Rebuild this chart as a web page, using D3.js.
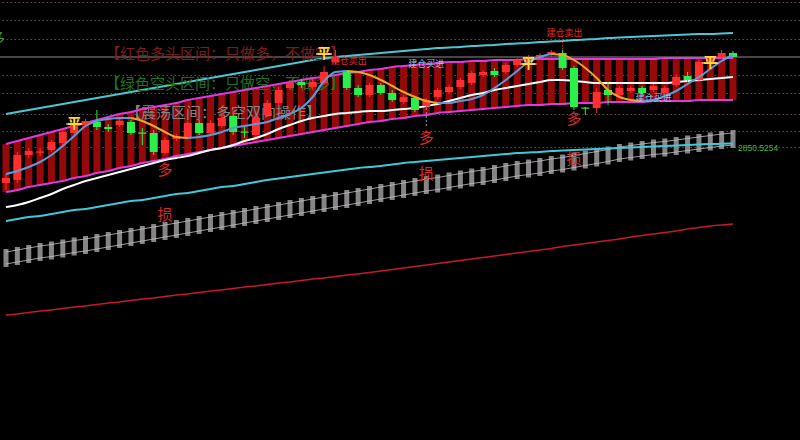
<!DOCTYPE html>
<html><head><meta charset="utf-8">
<script src="https://cdn.jsdelivr.net/npm/d3@7"></script>
<style>html,body{margin:0;padding:0;background:#000;overflow:hidden}</style>
</head><body>
<svg id="chart" width="800" height="440"></svg>
<script>
// ---------- data (prices) ----------
const opens = [2811,2814,2839,2841.5,2844,2851,2861,2869,2872,2867, 2869,2872,2861.5,2861,2841,2855,2857,2871,2861,2868, 2878,2862.5,2859,2879,2891,2906,2912,2907,2911,2932, 2922,2906,2899,2909,2901,2892,2896,2888,2897,2902, 2907,2911,2919,2923,2922,2929,2932,2936,2939,2941, 2926,2886.5,2886,2904,2899,2903,2906,2904,2901,2909, 2918,2914,2932,2937,2941];
const highs = [2820,2842,2846,2846,2854,2865,2876,2875,2884,2870, 2875,2874,2866,2864,2857,2860,2873,2874,2874,2879, 2881,2869,2878,2894,2907,2914,2915,2915,2928,2944, 2924,2909,2911,2911,2904,2899,2898,2896,2906,2909, 2916,2923,2924,2926,2931,2936,2939,2941,2944,2944, 2928,2887,2906,2912,2908,2908,2908,2910,2908,2920, 2922,2934,2938,2944,2943];
const lows = [2804,2811,2836,2838,2842,2848,2859,2867,2864,2862, 2867,2859,2849,2839,2839,2853,2855,2859,2859,2866, 2859,2856,2857,2877,2889,2904,2906,2905,2909,2930, 2904,2897,2897,2899,2892,2890,2882,2886,2895,2900, 2905,2909,2917,2917,2920,2927,2930,2934,2937,2924, 2884,2879,2881,2889,2897,2901,2899,2902,2899,2907, 2912,2912,2930,2935,2936];
const closes = [2816,2839,2843,2842.5,2852,2862,2871,2873,2867,2865, 2873,2861,2860.5,2842,2854,2858,2871,2861,2871,2876, 2862,2861.5,2876,2891,2904,2911,2909,2912,2922,2937, 2906,2899,2909,2901,2894,2897,2884,2894,2904,2907, 2914,2921,2922,2919,2929,2934,2937,2939,2942,2926, 2887,2885.5,2902,2899,2906,2906,2901,2908,2906,2917, 2914,2932,2936,2941,2937];
const maLine = [2820,2823,2827,2832,2839,2848,2858,2868,2873,2875, 2876,2876,2873,2868,2862,2857,2856,2857,2859,2862, 2866,2868,2870,2872,2876,2880,2886,2897,2913,2922, 2923,2922,2919,2914,2908,2902,2897,2893,2891,2891, 2893,2895,2899,2906,2914,2923,2932,2937,2940,2939, 2934,2926,2916,2904,2897,2894,2893,2894,2898,2903, 2910,2917,2925,2933,2939];
const whiteLine = [2787,2789,2792,2796,2800,2805,2809,2813,2816,2819, 2822,2825,2828,2831,2834,2836,2838,2841,2844,2846, 2849,2853,2856,2860,2865,2869,2873,2876,2878,2880, 2881,2882,2883,2883,2884,2885,2886,2888,2890,2893, 2896,2899,2901,2904,2906,2908,2910,2912,2914,2914, 2913,2912,2911,2911,2911,2911,2911,2911,2911,2912, 2913,2914,2915,2916,2917];
const bandUpper = [2850,2853,2856,2859,2862,2865,2868,2871,2874,2877, 2880,2882,2885,2887,2889,2891,2894,2896,2898,2900, 2902,2904,2906,2908,2910,2912,2914,2916,2917,2919, 2921,2922,2924,2925,2927,2928,2929,2930,2931,2932, 2932,2933,2933,2934,2934,2934,2935,2935,2935,2935, 2935,2935,2935,2935,2935,2935,2935,2935,2936,2936, 2936,2936,2936,2936,2936];
const bandLower = [2802,2804,2807,2809,2811,2813,2816,2818,2821,2823, 2826,2828,2831,2833,2835,2838,2840,2842,2844,2846, 2848,2850,2852,2854,2856,2858,2860,2862,2864,2866, 2868,2870,2872,2873,2875,2876,2878,2879,2881,2882, 2883,2884,2885,2886,2887,2888,2889,2889,2890,2890, 2891,2891,2891,2892,2892,2892,2892,2893,2893,2893, 2893,2894,2894,2894,2894];
const cyanUpper = [2880,2882,2884,2886,2888,2890,2892,2894,2896,2898, 2900,2902,2904,2906,2908,2910,2912,2914,2916,2918, 2920,2922,2924,2926,2928,2930,2932,2934,2935.5,2937, 2938,2939,2940,2941,2942,2943,2944,2945,2946,2946.5, 2947,2948,2948.5,2949,2950,2950.5,2951,2952,2952.5,2953, 2954,2954.5,2955,2956,2956.5,2957,2957.5,2958,2958.5,2959, 2959.5,2960,2960,2960.5,2961];
const cyanLower = [2773,2775,2777,2778,2780,2782,2784,2785,2787,2789, 2791,2793,2794,2796,2798,2800,2801,2803,2805,2807, 2808,2810,2812,2814,2815.5,2817,2818.5,2820,2821.5,2823, 2824.5,2826,2827,2828,2829.5,2831,2832,2833,2834,2835, 2836,2837,2838,2839,2840,2841,2841.5,2842,2843,2843.5, 2844,2844.5,2845,2845.5,2846,2846.5,2847,2847.5,2848,2848.5, 2849,2849.5,2850,2850.2,2850.5254];
const railMid = [2736,2738,2740,2742,2743.5,2745.5,2747.5,2749,2751,2753, 2755,2757,2759,2761,2763,2765,2767,2769,2771,2773, 2775,2777,2779,2781,2783,2785,2787,2789,2791,2793, 2795,2797,2799,2801,2803, 2805,2807,2809,2810.5,2812.5,2814.5,2816.5,2818,2820,2822, 2824,2825.5,2827,2829,2830.5,2832.5,2834.5,2836.5,2838.5,2841, 2842.5,2844,2845.5,2846.5,2848,2849.5,2851,2852.5,2854,2855];
const railHalf = 9;
const redLine = [2679,2680,2681.5,2683,2684,2685.5,2687,2688,2689.5,2691, 2692,2693.5,2695,2696,2697.5,2699,2700,2701.5,2703,2704, 2705.5,2707,2708,2709.5,2711,2712,2713.5,2715,2716,2717.5, 2719,2720,2721.5,2723,2724.5,2726,2727.5,2729,2730.5,2732, 2733.5,2735,2736.5,2738,2739.5,2741,2742.5,2744,2745.5,2747.5, 2749,2750.5,2752,2753.5,2755,2757,2758.5,2760,2761.5,2763, 2765,2766.5,2768,2769,2770];
const gridLevels = [2992,2974,2955,2919,2901,2880,2863,2847];
const flatIdx = [6,28,46,62];
const flatPrice = [2872,2942,2932,2933];
const longIdx = [14,37,50];
const longPrice = [2826,2858,2877];
const stopPrice = [2781,2822,2837];
const sellIdx = [30,49];
const sellPrice = [2934,2962];
const buyIdx = [37,57];
const buyPrice = [2931,2897];
const notes = ["【红色多头区间：只做多，不做空】","【绿色空头区间：只做空，不做多】","【震荡区间：多空双向操作】"];
const valueLabel = "2850.5254";

// ---------- drawing ----------
const W = 800, H = 440, n = closes.length;
const svg = d3.select('#chart');
const x = d3.scaleLinear().domain([0, n - 1]).range([6, 733]);
const y = d3.scaleLinear().domain([2554, 2994]).range([H, 0]);
const idx = d3.range(n);
const CJK = '"Noto Sans CJK SC", "Noto Sans", sans-serif';

svg.append('rect').attr('width', W).attr('height', H).attr('fill', '#000');

// dotted grid from an axis
const gAx = svg.append('g').attr('transform', `translate(${W},0)`)
  .call(d3.axisLeft(y).tickValues(gridLevels).tickSize(W).tickFormat(''));
gAx.select('.domain').remove();
gAx.selectAll('.tick line').attr('stroke', '#6a4848').attr('stroke-dasharray', '1.5,2.5');

// last price line
svg.append('line').attr('x1', 0).attr('x2', W)
  .attr('y1', y(closes[n - 1])).attr('y2', y(closes[n - 1]))
  .attr('stroke', '#8c8c8c').attr('stroke-width', 1);

const lineOf = arr => d3.line().x(i => x(i)).y(i => y(arr[i])).curve(d3.curveMonotoneX)(idx);

// bottom red line
svg.append('path').attr('d', lineOf(redLine)).attr('fill', 'none').attr('stroke', '#c41a2c').attr('stroke-width', 1.6);

// gray rails
svg.append('g').selectAll('rect').data(idx).join('rect')
  .attr('x', i => x(i) - 2.5).attr('width', 5)
  .attr('y', i => y(railMid[i] + railHalf)).attr('height', i => y(railMid[i] - railHalf) - y(railMid[i] + railHalf))
  .attr('fill', '#858585');
[6, -6].forEach(o => {
  svg.append('path').attr('d', d3.line().x(i => x(i)).y(i => y(railMid[i] + o))(idx))
    .attr('fill', 'none').attr('stroke', '#c9bcc9').attr('stroke-width', 0.8);
});

// cyan lines
svg.append('path').attr('d', lineOf(cyanUpper)).attr('fill', 'none').attr('stroke', '#4cc6d2').attr('stroke-width', 2);
svg.append('path').attr('d', lineOf(cyanLower)).attr('fill', 'none').attr('stroke', '#40c8d8').attr('stroke-width', 2);

// channel bars
svg.append('g').selectAll('rect').data(idx).join('rect')
  .attr('x', i => x(i) - 3.5).attr('width', 7)
  .attr('y', i => y(bandUpper[i])).attr('height', i => y(bandLower[i]) - y(bandUpper[i]))
  .attr('fill', '#960909');

// zone notes
const noteStyle = [
  {x: 105, y: 59, c: '#7e1c1c'},
  {x: 105, y: 89, c: '#1f701f'},
  {x: 126, y: 118, c: '#858585'}
];
svg.append('g').selectAll('text').data(notes).join('text')
  .attr('x', (d, k) => noteStyle[k].x).attr('y', (d, k) => noteStyle[k].y)
  .attr('fill', (d, k) => noteStyle[k].c)
  .attr('font-family', CJK).attr('font-size', 15).text(d => d);

// partial green 多 at top-left
svg.append('text').attr('x', -9).attr('y', 43).attr('fill', '#2e9e2e')
  .attr('font-family', CJK).attr('font-size', 14).text('多');

// magenta band lines
[bandUpper, bandLower].forEach(arr => {
  svg.append('path').attr('d', lineOf(arr)).attr('fill', 'none').attr('stroke', '#dc3cdc').attr('stroke-width', 2);
});

// white line
svg.append('path').attr('d', lineOf(whiteLine)).attr('fill', 'none').attr('stroke', '#ffffff').attr('stroke-width', 2);

// candles
const up = i => closes[i] >= opens[i];
const candleCol = i => up(i) ? '#ff2e2e' : '#2cf04a';
const cg = svg.append('g');
cg.selectAll('line').data(idx).join('line')
  .attr('x1', i => x(i)).attr('x2', i => x(i))
  .attr('y1', i => y(highs[i])).attr('y2', i => y(lows[i]))
  .attr('stroke', i => candleCol(i)).attr('stroke-width', 1);
cg.selectAll('rect').data(idx).join('rect')
  .attr('x', i => x(i) - 4).attr('width', 8)
  .attr('y', i => y(Math.max(opens[i], closes[i])))
  .attr('height', i => Math.max(1.2, Math.abs(y(opens[i]) - y(closes[i]))))
  .attr('fill', i => candleCol(i));

// MA line coloured by direction
let runs = [], cur = [0], dir = maLine[1] >= maLine[0];
for (let i = 1; i < n; i++) {
  const d = maLine[i] >= maLine[i - 1];
  if (d !== dir) { runs.push({pts: cur, rising: dir}); cur = [i - 1]; dir = d; }
  cur.push(i);
}
runs.push({pts: cur, rising: dir});
runs.forEach(r => {
  svg.append('path')
    .attr('d', d3.line().x(i => x(i)).y(i => y(maLine[i])).curve(d3.curveMonotoneX)(r.pts))
    .attr('fill', 'none').attr('stroke', r.rising ? '#5b9bd8' : '#e8a630').attr('stroke-width', 2);
});

// connectors
svg.append('line').attr('x1', x(longIdx[1])).attr('x2', x(longIdx[1]))
  .attr('y1', y(lows[longIdx[1]])).attr('y2', y(longPrice[1]) - 8)
  .attr('stroke', '#8899aa').attr('stroke-dasharray', '2,2');
svg.append('line').attr('x1', x(sellIdx[1])).attr('x2', x(sellIdx[1]))
  .attr('y1', y(sellPrice[1]) + 4).attr('y2', y(highs[sellIdx[1]]))
  .attr('stroke', '#d02828').attr('stroke-dasharray', '1.5,1.5');

// 平 signals
const fg = svg.append('g');
fg.selectAll('line').data(flatIdx).join('line')
  .attr('x1', i => x(i) - 8).attr('x2', i => x(i) + 8)
  .attr('y1', (i, k) => y(flatPrice[k]) + 2).attr('y2', (i, k) => y(flatPrice[k]) + 2)
  .attr('stroke', '#fff4c0').attr('stroke-width', 1.2);
fg.selectAll('text').data(flatIdx).join('text')
  .attr('x', i => x(i)).attr('y', (i, k) => y(flatPrice[k]))
  .attr('text-anchor', 'middle').attr('dominant-baseline', 'central')
  .attr('fill', '#ffd83a').attr('font-weight', 'bold')
  .attr('font-family', CJK).attr('font-size', 14).text('平');

// 多 / 损 signals
const lg = svg.append('g').attr('font-family', CJK).attr('font-size', 15).attr('fill', '#d8282a').attr('text-anchor', 'middle').attr('dominant-baseline', 'central');
lg.selectAll('text.l').data(longIdx).join('text').attr('class', 'l')
  .attr('x', i => x(i)).attr('y', (i, k) => y(longPrice[k])).text('多');
lg.selectAll('text.s').data(longIdx).join('text').attr('class', 's')
  .attr('x', i => x(i)).attr('y', (i, k) => y(stopPrice[k])).text('损');

// 建仓 labels
svg.append('g').selectAll('text').data(sellIdx).join('text')
  .attr('x', i => x(i) + 2).attr('y', (i, k) => y(sellPrice[k]))
  .attr('text-anchor', 'middle').attr('dominant-baseline', 'central')
  .attr('fill', '#e02a2a').attr('font-family', CJK).attr('font-size', 9).text('建仓卖出');
svg.append('g').selectAll('text').data(buyIdx).join('text')
  .attr('x', i => x(i)).attr('y', (i, k) => y(buyPrice[k]))
  .attr('text-anchor', 'middle').attr('dominant-baseline', 'central')
  .attr('fill', '#8fc4ee').attr('font-family', CJK).attr('font-size', 9).text('建仓买进');

// value label
svg.append('text').attr('x', x(n - 1) + 5).attr('y', y(cyanLower[n - 1]) + 8)
  .attr('fill', '#47b247').attr('font-family', 'Liberation Sans, Arial, sans-serif').attr('font-size', 8.5)
  .text(valueLabel);
</script>
</body></html>
